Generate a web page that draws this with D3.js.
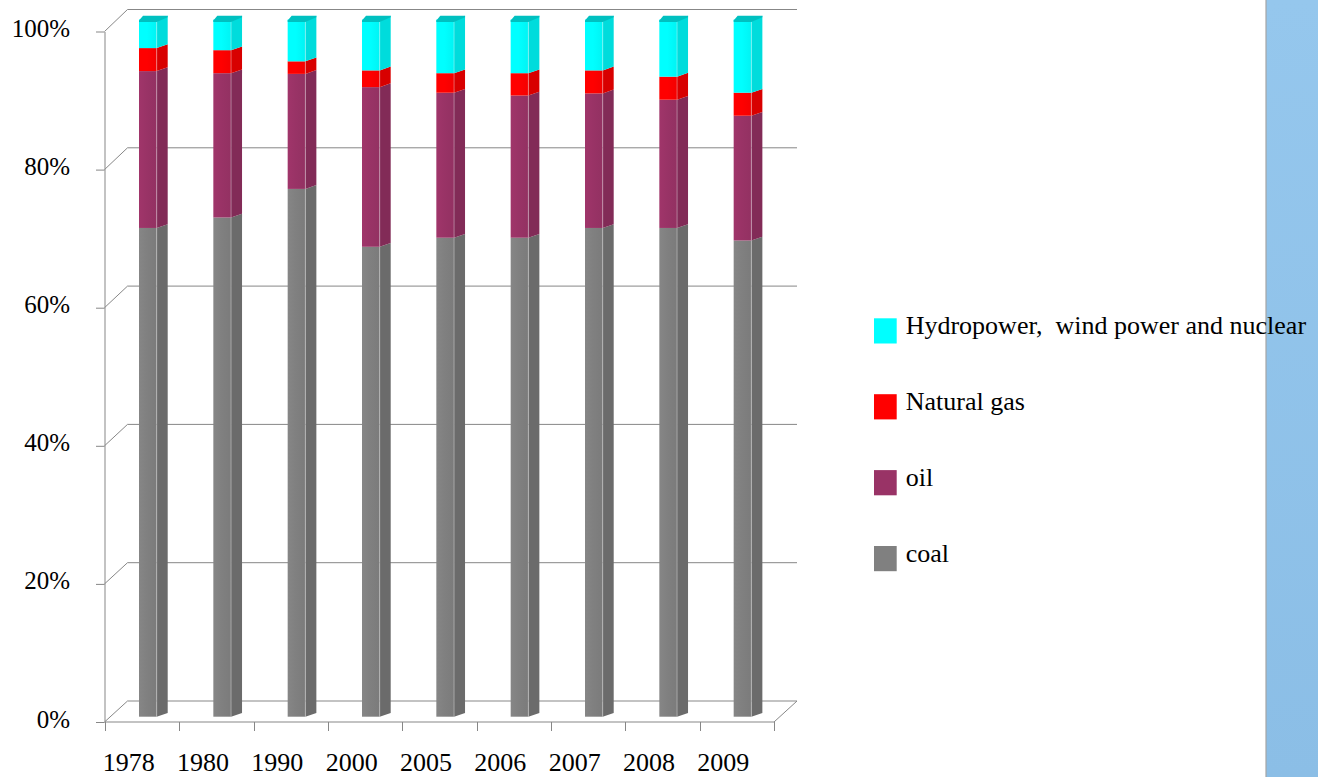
<!DOCTYPE html>
<html>
<head>
<meta charset="utf-8">
<script src="https://cdn.jsdelivr.net/npm/d3@7"></script>
<style>
  body { margin: 0; background: #fff; }
  svg text { font-family: "Liberation Serif", "Times New Roman", serif !important; fill: #000; }
</style>
</head>
<body>
<svg id="chart" width="1318" height="777"></svg>
<script>
// data (percent of total energy use)
var years = ["1978", "1980", "1990", "2000", "2005", "2006", "2007", "2008", "2009"];
var coal  = [70.1, 71.6, 75.7, 67.4, 68.7, 68.7, 70.1, 70.1, 68.3];
var oil   = [22.5, 20.7, 16.5, 22.9, 20.8, 20.4, 19.3, 18.4, 17.9];
var gas   = [3.3, 3.3, 1.8, 2.4, 2.8, 3.2, 3.3, 3.3, 3.3];
var hydro = [4.1, 4.4, 6.0, 7.3, 7.7, 7.7, 7.3, 8.2, 10.5];
var seriesNames = ["coal", "oil", "Natural gas", "Hydropower, wind power and nuclear"];
var yTicks = [0, 20, 40, 60, 80, 100];

var colours = {
    "coal":        { front: "#808080", side: "#6b6b6b", top: "#707070" },
    "oil":         { front: "#993366", side: "#822b57", top: "#7a2852" },
    "Natural gas": { front: "#ff0000", side: "#d80000", top: "#c80000" },
    "Hydropower, wind power and nuclear": { front: "#00ffff", side: "#00dcdc", top: "#00c0c0" }
}

var serif = "Liberation Serif, Times New Roman, serif";
var svg = d3.select("#chart");

// right blue band
var defs = svg.append("defs");
var bandGrad = defs.append("linearGradient").attr("id", "band").attr("x1", 0).attr("y1", 0).attr("x2", 0).attr("y2", 1);
bandGrad.append("stop").attr("offset", 0).attr("stop-color", "#95c7ed");
bandGrad.append("stop").attr("offset", 1).attr("stop-color", "#8bbee6");
svg.append("rect").attr("x", 1266).attr("y", 0).attr("width", 52).attr("height", 777).attr("fill", "url(#band)");
svg.append("line").attr("x1", 1266).attr("x2", 1266).attr("y1", 0).attr("y2", 777)
    .attr("stroke", "#a5a5a5").attr("stroke-width", 1.2);

// scales
var x = d3.scaleBand().domain(years).range([105, 774]);
var yFront = d3.scaleLinear().domain([0, 100]).range([722, 31.5]);
var yBack = d3.scaleLinear().domain([0, 100]).range([701, 9.5]);
var yBar = d3.scaleLinear().domain([0, 100]).range([716.7, 19.5]);

var wallDx = 23;
var gridColour = "#878787";

// gridlines: side wall diagonal + back wall
var grid = svg.append("g").attr("fill", "none").attr("stroke", gridColour).attr("stroke-width", 1);
yTicks.forEach(function (t) {
    var pts = [[104.5, yFront(t)], [104.5 + wallDx, yBack(t)], [797, yBack(t)]];
    if (t == 0) pts.push([774, yFront(t)]);
    grid.append("path").attr("d", d3.line()(pts));
});

// y axis on the front edge
var yAxis = svg.append("g")
    .attr("transform", "translate(104.5,0)")
    .call(d3.axisLeft(yFront).tickValues(yTicks).tickFormat(function (d) { return d + "%" })
        .tickSize(8.5).tickSizeOuter(0).tickPadding(26));
yAxis.attr("font-family", serif).attr("font-size", 25);
yAxis.selectAll("path, line").attr("stroke", gridColour);
yAxis.selectAll("text").attr("dy", "0.2em").attr("fill", "#000");

// x axis: front bottom edge, ticks on category borders
var xAxis = svg.append("g").attr("stroke", gridColour);
xAxis.append("line").attr("x1", 105).attr("x2", 774).attr("y1", 722).attr("y2", 722);
years.concat([null]).forEach(function (d) {
    var px = d ? x(d) : x.range()[1];
    xAxis.append("line").attr("x1", Math.round(px) + 0.5).attr("x2", Math.round(px) + 0.5)
        .attr("y1", 722).attr("y2", 731);
});
svg.append("g").attr("font-family", serif).selectAll("text").data(years).enter().append("text")
    .attr("x", function (d) { return x(d) + x.bandwidth() / 2 - 13.5 })
    .attr("y", 771)
    .attr("text-anchor", "middle")
    .attr("font-size", "26px")
    .text(function (d) { return d });

// stacked 3D columns
var rows = years.map(function (yr, i) {
    return { year: yr, "coal": coal[i], "oil": oil[i], "Natural gas": gas[i],
        "Hydropower, wind power and nuclear": hydro[i] };
});
var stacked = d3.stack().keys(seriesNames)(rows);

var frontW = 17.7, sideW = 11, depthDy = 3.8, barInset = 34;

seriesNames.forEach(function (name, k) {
    var g = defs.append("linearGradient").attr("id", "front" + k);
    var base = d3.color(colours[name].front);
    g.append("stop").attr("offset", 0).attr("stop-color", base.brighter(0.12));
    g.append("stop").attr("offset", 0.45).attr("stop-color", base);
    g.append("stop").attr("offset", 1).attr("stop-color", base.darker(0.12));
});

var bars = svg.append("g");
stacked.forEach(function (layer, k) {
    var c = colours[layer.key];
    var lg = bars.append("g");
    layer.forEach(function (seg) {
        var fx = x(seg.data.year) + barInset;
        var y0 = yBar(seg[0]), y1 = yBar(seg[1]);
        lg.append("rect").attr("x", fx).attr("y", y1).attr("width", frontW).attr("height", y0 - y1)
            .attr("fill", "url(#front" + k + ")");
        lg.append("path")
            .attr("d", d3.line()([[fx + frontW, y1], [fx + frontW + sideW, y1 - depthDy],
                [fx + frontW + sideW, y0 - depthDy], [fx + frontW, y0]]) + "Z")
            .attr("fill", c.side);
        lg.append("line").attr("x1", fx + frontW).attr("x2", fx + frontW).attr("y1", y1).attr("y2", y0)
            .attr("stroke", "#fff").attr("stroke-opacity", 0.35).attr("stroke-width", 1);
        if (k == seriesNames.length - 1) {
            lg.append("path")
                .attr("d", d3.line()([[fx, y1 + 1], [fx + 4, y1 - depthDy], [fx + frontW + sideW, y1 - depthDy],
                    [fx + frontW + sideW, y1 - depthDy + 1.5], [fx + frontW, y1 + 2.5], [fx, y1 + 2.5]]) + "Z")
                .attr("fill", c.top);
        }
    });
});

// legend
var legendNames = seriesNames.slice().reverse();
var legend = svg.append("g").attr("font-family", serif).selectAll("g").data(legendNames).enter().append("g")
    .attr("transform", function (d, i) { return "translate(874," + (318.3 + i * 75.9) + ")" });
legend.append("rect").attr("width", 22.7).attr("height", 25.2)
    .attr("fill", function (d) { return colours[d].front });
legend.append("text").attr("x", 31.7).attr("y", 15.5).attr("font-size", "26px")
    .attr("xml:space", "preserve")
    .text(function (d) { return d.replace(", ", ",  ") });
</script>
</body>
</html>
